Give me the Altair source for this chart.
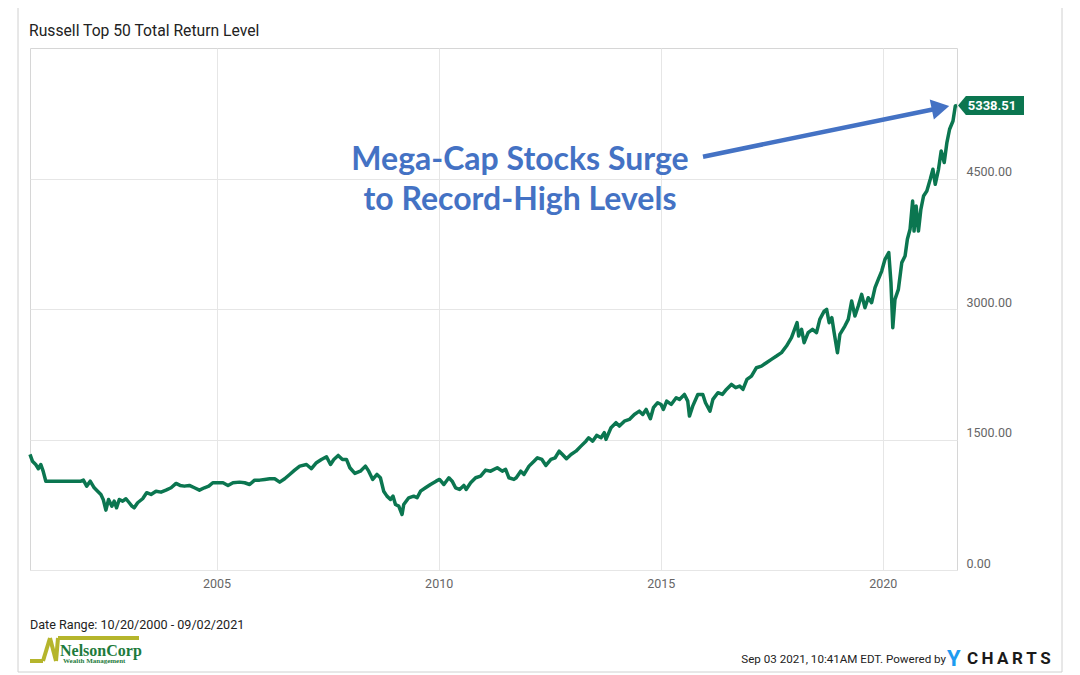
import altair as alt
import pandas as pd

TITLE = "Russell Top 50 Total Return Level"
ANNOT_1 = "Mega-Cap Stocks Surge"
ANNOT_2 = "to Record-High Levels"
LAST_LABEL = "5338.51"
DATE_RANGE = "Date Range: 10/20/2000 - 09/02/2021"
STAMP = "Sep 03 2021, 10:41AM EDT.  Powered by"
LOGO_1 = "NelsonCorp"
LOGO_2 = "Wealth Management"
X_TICKS = [2005, 2010, 2015, 2020]
Y_TICKS = [0, 1500, 3000, 4500]

DATES = [
    "2000-10-20", "2000-11-09", "2000-12-06", "2000-12-28", "2001-01-17", "2001-02-05", "2001-02-27",
    "2001-12-12", "2002-01-02", "2002-01-29", "2002-02-27", "2002-04-01", "2002-04-29", "2002-05-26",
    "2002-06-14", "2002-07-06", "2002-07-28", "2002-08-24", "2002-09-12", "2002-10-02", "2002-10-24",
    "2002-11-21", "2002-12-18", "2003-01-14", "2003-02-05", "2003-02-24", "2003-03-24", "2003-05-04",
    "2003-06-06", "2003-07-12", "2003-08-22", "2003-10-02", "2003-11-12", "2003-12-24", "2004-02-03",
    "2004-03-07", "2004-04-11", "2004-05-22", "2004-07-03", "2004-08-13", "2004-09-23", "2004-10-29",
    "2004-12-01", "2005-01-12", "2005-02-23", "2005-04-05", "2005-05-16", "2005-07-09", "2005-08-20",
    "2005-09-30", "2005-11-10", "2005-12-21", "2006-02-01", "2006-03-14", "2006-04-24", "2006-06-04",
    "2006-07-15", "2006-08-25", "2006-10-05", "2006-11-16", "2007-01-10", "2007-02-20", "2007-04-02",
    "2007-05-13", "2007-06-24", "2007-07-27", "2007-08-23", "2007-09-28", "2007-11-02", "2007-12-05",
    "2008-01-02", "2008-02-12", "2008-03-28", "2008-05-09", "2008-06-05", "2008-07-08", "2008-08-12",
    "2008-09-09", "2008-10-06", "2008-11-02", "2008-12-01", "2008-12-22", "2009-01-11", "2009-02-07",
    "2009-03-06", "2009-03-20", "2009-04-30", "2009-06-10", "2009-07-08", "2009-08-05", "2009-09-15",
    "2009-10-26", "2009-12-11", "2010-01-08", "2010-02-13", "2010-03-26", "2010-04-22", "2010-05-20",
    "2010-06-22", "2010-07-27", "2010-08-15", "2010-09-21", "2010-11-01", "2010-12-12", "2011-01-22",
    "2011-03-04", "2011-04-28", "2011-06-08", "2011-07-06", "2011-08-02", "2011-09-12", "2011-10-01",
    "2011-11-07", "2011-12-04", "2012-01-14", "2012-02-24", "2012-03-23", "2012-04-29", "2012-06-01",
    "2012-07-12", "2012-08-16", "2012-09-18", "2012-10-15", "2012-11-17", "2012-12-24", "2013-02-03",
    "2013-03-16", "2013-04-26", "2013-05-18", "2013-06-20", "2013-07-23", "2013-08-28", "2013-09-24",
    "2013-10-08", "2013-11-18", "2013-12-29", "2014-01-26", "2014-03-08", "2014-04-18", "2014-05-29",
    "2014-07-09", "2014-08-06", "2014-09-03", "2014-10-08", "2014-11-02", "2014-12-07", "2015-01-04",
    "2015-01-23", "2015-02-19", "2015-03-28", "2015-05-08", "2015-06-04", "2015-07-15", "2015-08-11",
    "2015-08-25", "2015-09-21", "2015-11-02", "2015-12-13", "2016-01-04", "2016-02-10", "2016-03-05",
    "2016-04-15", "2016-05-22", "2016-06-24", "2016-08-04", "2016-09-08", "2016-10-11", "2016-11-07",
    "2016-12-10", "2017-01-16", "2017-02-26", "2017-04-08", "2017-05-19", "2017-06-29", "2017-08-10",
    "2017-09-20", "2017-10-31", "2017-12-11", "2018-01-26", "2018-02-08", "2018-03-04", "2018-03-25",
    "2018-04-27", "2018-06-02", "2018-07-05", "2018-08-01", "2018-09-06", "2018-09-26", "2018-10-17",
    "2018-11-08", "2018-11-27", "2018-12-24", "2019-01-13", "2019-02-23", "2019-03-23", "2019-04-20",
    "2019-05-17", "2019-06-13", "2019-07-11", "2019-08-07", "2019-09-03", "2019-10-01", "2019-10-29",
    "2019-11-25", "2019-12-23", "2020-01-19", "2020-02-19", "2020-03-08", "2020-03-23", "2020-04-10",
    "2020-05-08", "2020-06-05", "2020-07-02", "2020-07-21", "2020-08-12", "2020-09-02", "2020-09-14",
    "2020-10-01", "2020-10-20", "2020-11-09", "2020-12-01", "2020-12-28", "2021-01-25", "2021-02-16",
    "2021-03-07", "2021-04-03", "2021-04-25", "2021-05-20", "2021-06-11", "2021-07-03", "2021-07-31",
    "2021-08-19", "2021-09-02",
]
LEVELS = [
    1328, 1251, 1213, 1164, 1213, 1136, 1021,
    1021, 1033, 964, 1021, 945, 906, 868,
    811, 688, 811, 734, 791, 715, 811,
    791, 819, 773, 734, 715, 773, 819,
    888, 868, 906, 895, 918, 945, 995,
    972, 964, 972, 945, 918, 945, 964,
    1003, 1003, 1003, 972, 1003, 1010, 1003,
    983, 1033, 1033, 1041, 1049, 1049, 1010,
    1049, 1098, 1148, 1194, 1213, 1164, 1233,
    1271, 1302, 1213, 1271, 1317, 1271, 1271,
    1175, 1110, 1136, 1194, 1136, 1041, 1098,
    1060, 906, 849, 811, 849, 753, 734,
    638, 753, 830, 849, 830, 906, 945,
    983, 1021, 1041, 983, 1060, 1021, 945,
    926, 972, 926, 1003, 1060, 1079, 1148,
    1136, 1175, 1136, 1156, 1060, 1041, 1060,
    1136, 1098, 1194, 1251, 1290, 1271, 1202,
    1271, 1290, 1366, 1328, 1279, 1328, 1366,
    1424, 1481, 1520, 1481, 1547, 1520, 1578,
    1501, 1635, 1693, 1654, 1711, 1731, 1788,
    1826, 1788, 1846, 1739, 1865, 1923, 1903,
    1846, 1941, 1903, 1980, 1961, 2018, 1941,
    1769, 1884, 2018, 2018, 1923, 1826, 1961,
    2038, 2018, 2076, 2133, 2095, 2114, 2076,
    2191, 2229, 2325, 2344, 2383, 2421, 2459,
    2498, 2574, 2670, 2843, 2689, 2766, 2613,
    2728, 2766, 2728, 2881, 2976, 2996, 2843,
    2900, 2728, 2498, 2708, 2804, 2881, 3091,
    2919, 3034, 3168, 3015, 3130, 3073, 3245,
    3341, 3436, 3571, 3648, 3303, 2785, 3111,
    3226, 3533, 3609, 3801, 3916, 4241, 3896,
    4184, 3896, 4146, 4299, 4357, 4491, 4606,
    4433, 4606, 4816, 4683, 4913, 5066, 5161,
    5334, 5338.51,
]

GREEN = "#0B7650"
BLUE = "#4472C4"
W, H = 927, 522

df = pd.DataFrame({"date": DATES, "level": LEVELS})
last = pd.DataFrame({"date": [DATES[-1]], "level": [LEVELS[-1]], "label": [LAST_LABEL]})

x_enc = alt.X(
    "date:T",
    title=None,
    scale=alt.Scale(domain=[alt.DateTime(year=2000, month=10, date=20),
                            alt.DateTime(year=2021, month=9, date=2)]),
    axis=alt.Axis(values=[alt.DateTime(year=y, month=1, date=1) for y in X_TICKS],
                  format="%Y", grid=True, gridColor="#e6e6e6", ticks=False, domain=False,
                  labelFont="Roboto", labelFontSize=12.5, labelColor="#666666", labelPadding=7),
)
y_enc = alt.Y(
    "level:Q",
    title=None,
    scale=alt.Scale(domain=[0, 6000], nice=False, zero=True),
    axis=alt.Axis(orient="right", values=Y_TICKS, format=".2f", grid=True, gridColor="#e6e6e6",
                  ticks=False, domain=False, labelFont="Roboto", labelFontSize=12.5,
                  labelColor="#666666", labelAlign="left", labelBaseline="middle",
                  labelOffset=-7, labelPadding=9),
)

line = alt.Chart(df).mark_line(color=GREEN, strokeWidth=3.5, strokeJoin="round").encode(x=x_enc, y=y_enc)

TAG_PATH = "M -1 0 L -0.76 -0.29 L 1 -0.29 L 1 0.29 L -0.76 0.29 Z"
tag = alt.Chart(last).mark_point(shape=TAG_PATH, size=66 * 66, filled=True, color=GREEN,
                                 opacity=1, strokeWidth=0, xOffset=34).encode(
    x=alt.X("date:T", title=None), y=alt.Y("level:Q", title=None))
tag_text = alt.Chart(last).mark_text(dx=35, color="white", fontWeight="bold", font="Roboto",
                                     fontSize=13, baseline="middle").encode(
    x=alt.X("date:T", title=None), y=alt.Y("level:Q", title=None), text="label:N")


def txt(s, x, y, **kw):
    return alt.Chart(pd.DataFrame({"t": [s]})).mark_text(**kw).encode(
        text="t:N", x=alt.value(x), y=alt.value(y))


def seg(x1, y1, x2, y2, **kw):
    return alt.Chart(pd.DataFrame({"k": [0]})).mark_rule(**kw).encode(
        x=alt.value(x1), y=alt.value(y1), x2=alt.value(x2), y2=alt.value(y2))


frame = alt.Chart(pd.DataFrame({"k": [0]})).mark_rect(
    fillOpacity=0, stroke="#d0d0d0", strokeWidth=1).encode(
    x=alt.value(-12), x2=alt.value(1032), y=alt.value(-47), y2=alt.value(624))

title = txt(TITLE, -1, -17, font="Roboto", fontSize=15.7, color="#222222", align="left", baseline="middle")
ann1 = txt(ANNOT_1, 490, 122, font="Lato", fontSize=32, fontWeight="bold", color=BLUE,
           align="center", baseline="alphabetic")
ann2 = txt(ANNOT_2, 490, 162, font="Lato", fontSize=32, fontWeight="bold", color=BLUE,
           align="center", baseline="alphabetic")
shaft = seg(673, 108.7, 905, 61, color=BLUE, strokeWidth=4.5)
head = alt.Chart(pd.DataFrame({"k": [0]})).mark_point(
    shape="triangle-right", size=420, filled=True, color=BLUE, opacity=1, angle=348.4,
    strokeWidth=0).encode(x=alt.value(910.5), y=alt.value(59.8))

date_range = txt(DATE_RANGE, 0, 577, font="Roboto", fontSize=12.6, color="#222222",
                 align="left", baseline="middle")
OLIVE = "#B5B52C"
logo = [
    seg(0, 613, 13, 613, color=OLIVE, strokeWidth=4),
    seg(13, 613, 20, 590, color=OLIVE, strokeWidth=4),
    seg(20, 590, 26, 613, color=OLIVE, strokeWidth=4),
    seg(26, 613, 28, 590, color=OLIVE, strokeWidth=4),
    seg(28, 590, 109, 590, color=OLIVE, strokeWidth=4),
]
logo_t1 = txt(LOGO_1, 30, 603, font="Liberation Serif", fontSize=16, fontWeight="bold",
              color="#1E7B3C", align="left", baseline="middle")
logo_t2 = txt(LOGO_2, 33, 613, font="Liberation Serif", fontSize=7, fontWeight="bold",
              color="#1E7B3C", align="left", baseline="middle")
stamp = txt(STAMP, 916, 612, font="Roboto", fontSize=11.6, color="#222222", align="right",
            baseline="middle")
ylogo = txt("Y", 917, 611, font="Roboto", fontSize=22, fontWeight="bold", color="#1E9BF0",
            align="left", baseline="middle")
charts = txt("C\u2009H\u2009A\u2009R\u2009T\u2009S", 937, 611, font="Roboto", fontSize=17,
             fontWeight="bold", color="#1a1a1a", align="left", baseline="middle")

chart = alt.layer(
    frame, line, tag, tag_text, title, ann1, ann2, shaft, head, date_range, *logo,
    logo_t1, logo_t2, stamp, ylogo, charts,
).properties(
    width=W, height=H,
    padding={"left": 22, "top": 40, "right": 115, "bottom": 105},
    autosize=alt.AutoSizeParams(type="none"),
    background="white",
).configure_view(stroke="#d6d6d6", strokeWidth=1)

chart.save("out.html", embed_options={"renderer": "svg", "actions": False})
